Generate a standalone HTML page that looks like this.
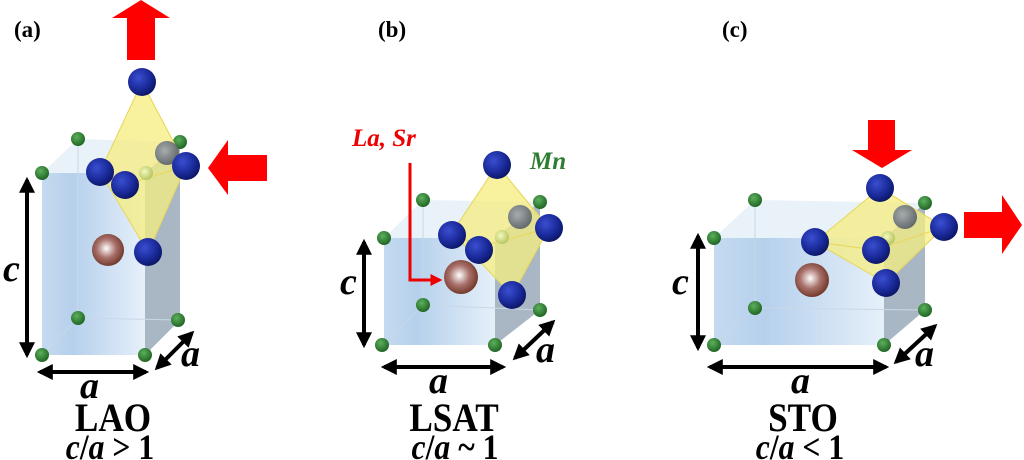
<!DOCTYPE html>
<html><head><meta charset="utf-8"><style>
html,body{margin:0;padding:0;background:#fff}
#w{position:relative;width:1024px;height:460px;overflow:hidden}
svg{display:block;position:absolute;left:0;top:0}
.t{position:absolute;font-family:"Liberation Serif","Times New Roman",serif;font-weight:bold;line-height:1;white-space:nowrap}
.i{font-style:italic}
.c{width:200px;text-align:center;transform:scaleX(0.88)}
</style></head>
<body><div id="w">
<svg width="1024" height="460" viewBox="0 0 1024 460" xmlns="http://www.w3.org/2000/svg">
<defs>
<radialGradient id="gB" cx="0.38" cy="0.35" r="0.7"><stop offset="0" stop-color="#3a4ed0"/><stop offset="0.6" stop-color="#1a2a9a"/><stop offset="1" stop-color="#0a1460"/></radialGradient>
<radialGradient id="gG" cx="0.4" cy="0.35" r="0.7"><stop offset="0" stop-color="#5cb05c"/><stop offset="1" stop-color="#1c6020"/></radialGradient>
<radialGradient id="gR" cx="0.45" cy="0.45" r="0.6"><stop offset="0" stop-color="#ffffff"/><stop offset="0.5" stop-color="#a8706a"/><stop offset="1" stop-color="#6a3020"/></radialGradient>
<radialGradient id="gK" cx="0.4" cy="0.4" r="0.6"><stop offset="0" stop-color="#9aa0b0"/><stop offset="1" stop-color="#505868"/></radialGradient>
<radialGradient id="gY" cx="0.4" cy="0.4" r="0.6"><stop offset="0" stop-color="#f4f8c0"/><stop offset="1" stop-color="#b8c860"/></radialGradient>
<linearGradient id="front" x1="0" x2="1"><stop offset="0" stop-color="#c4daf0"/><stop offset="0.3" stop-color="#b6d0ec"/><stop offset="1" stop-color="#e6f0fa"/></linearGradient>
<marker id="ah" viewBox="0 0 10 10" refX="8" refY="5" markerWidth="4" markerHeight="4" orient="auto-start-reverse"><path d="M0,0 L10,5 L0,10 z" fill="#000"/></marker>
<marker id="rh" viewBox="0 0 10 10" refX="8" refY="5" markerWidth="4" markerHeight="4" orient="auto"><path d="M0,0 L10,5 L0,10 z" fill="#e00"/></marker>
</defs>

<!-- Panel A -->
<polygon points="42,173 78,139 180,142 145,173" fill="#e4eef8" opacity="0.8"/>
<polygon points="145,173 180,142 180,320 145,355" fill="#a9b6c4"/>
<rect x="42" y="173" width="103" height="182" fill="url(#front)"/>
<g stroke="#c8d8e8" stroke-width="1" fill="none"><line x1="78" y1="139" x2="78" y2="318"/><line x1="78" y1="318" x2="178" y2="320"/><line x1="78" y1="318" x2="42" y2="355"/></g>
<circle cx="78" cy="139" r="7" fill="url(#gG)"/><circle cx="180" cy="142" r="7" fill="url(#gG)"/>
<circle cx="42" cy="173" r="7" fill="url(#gG)"/><circle cx="78" cy="318" r="7" fill="url(#gG)"/>
<circle cx="178" cy="320" r="7" fill="url(#gG)"/><circle cx="42" cy="355" r="7" fill="url(#gG)"/><circle cx="145" cy="355" r="7" fill="url(#gG)"/>
<g fill="#f6ee80" fill-opacity="0.5" stroke="#e8d860" stroke-width="1">
<polygon points="142,82 100,172 148,252 186,166"/>
<polygon points="142,82 100,172 125,185 186,166"/>
<polygon points="148,252 100,172 125,185 186,166"/>
</g>
<circle cx="146" cy="173" r="7" fill="url(#gY)"/>
<circle cx="167" cy="153" r="12" fill="url(#gK)" opacity="0.85"/>
<circle cx="108" cy="250" r="16" fill="url(#gR)"/>
<circle cx="142" cy="82" r="14" fill="url(#gB)"/><circle cx="100" cy="172" r="14" fill="url(#gB)"/>
<circle cx="125" cy="185" r="14" fill="url(#gB)"/><circle cx="186" cy="166" r="14" fill="url(#gB)"/>
<circle cx="148" cy="252" r="14" fill="url(#gB)"/>
<polygon points="127,60 155,60 155,18 170,18 141,0 112,18 127,18" fill="#f00"/>
<polygon points="267,155 228,155 228,140 208,168 228,195 228,181 267,181" fill="#f00"/>
<g stroke="#000" stroke-width="4" marker-start="url(#ah)" marker-end="url(#ah)">
<line x1="27" y1="180" x2="27" y2="355"/><line x1="40" y1="372" x2="146" y2="372"/><line x1="157" y1="368" x2="192" y2="333"/></g>

<!-- Panel B -->
<polygon points="384,238 423,200 540,202 495,238" fill="#e4eef8" opacity="0.8"/>
<polygon points="495,238 540,202 540,310 495,345" fill="#a9b6c4"/>
<rect x="384" y="238" width="111" height="107" fill="url(#front)"/>
<g stroke="#c8d8e8" stroke-width="1" fill="none"><line x1="423" y1="200" x2="423" y2="305"/><line x1="423" y1="305" x2="540" y2="310"/><line x1="423" y1="305" x2="384" y2="345"/></g>
<circle cx="423" cy="200" r="7" fill="url(#gG)"/><circle cx="540" cy="202" r="7" fill="url(#gG)"/>
<circle cx="384" cy="238" r="7" fill="url(#gG)"/><circle cx="423" cy="305" r="7" fill="url(#gG)"/>
<circle cx="540" cy="310" r="7" fill="url(#gG)"/><circle cx="382" cy="345" r="7" fill="url(#gG)"/><circle cx="495" cy="345" r="7" fill="url(#gG)"/>
<g fill="#f6ee80" fill-opacity="0.5" stroke="#e8d860" stroke-width="1">
<polygon points="497,165 452,233 512,295 549,228"/>
<polygon points="497,165 452,233 480,247 549,228"/>
<polygon points="512,295 452,233 480,247 549,228"/>
</g>
<circle cx="502" cy="237" r="7" fill="url(#gY)"/>
<circle cx="520" cy="217" r="12" fill="url(#gK)" opacity="0.85"/>
<circle cx="461" cy="277" r="17" fill="url(#gR)"/>
<circle cx="497" cy="165" r="14" fill="url(#gB)"/><circle cx="452" cy="235" r="14" fill="url(#gB)"/>
<circle cx="479" cy="250" r="14" fill="url(#gB)"/><circle cx="549" cy="228" r="14" fill="url(#gB)"/>
<circle cx="512" cy="295" r="14" fill="url(#gB)"/>
<polyline points="410,163 410,280 440,280" fill="none" stroke="#e00" stroke-width="3" marker-end="url(#rh)"/>
<g stroke="#000" stroke-width="4" marker-start="url(#ah)" marker-end="url(#ah)">
<line x1="364" y1="242" x2="364" y2="345"/><line x1="384" y1="367" x2="503" y2="367"/><line x1="515" y1="358" x2="553" y2="322"/></g>

<!-- Panel C -->
<polygon points="714,238 755,200 925,203 884,238" fill="#e4eef8" opacity="0.8"/>
<polygon points="884,238 925,203 925,310 884,345" fill="#a9b6c4"/>
<rect x="714" y="238" width="170" height="107" fill="url(#front)"/>
<g stroke="#c8d8e8" stroke-width="1" fill="none"><line x1="755" y1="200" x2="755" y2="308"/><line x1="755" y1="308" x2="925" y2="310"/><line x1="755" y1="308" x2="714" y2="345"/></g>
<circle cx="755" cy="200" r="7" fill="url(#gG)"/><circle cx="925" cy="203" r="7" fill="url(#gG)"/>
<circle cx="714" cy="238" r="7" fill="url(#gG)"/><circle cx="755" cy="308" r="7" fill="url(#gG)"/>
<circle cx="925" cy="310" r="7" fill="url(#gG)"/><circle cx="714" cy="345" r="7" fill="url(#gG)"/><circle cx="884" cy="345" r="7" fill="url(#gG)"/>
<g fill="#f6ee80" fill-opacity="0.5" stroke="#e8d860" stroke-width="1">
<polygon points="880,188 815,242 886,283 944,227"/>
<polygon points="880,188 815,242 876,250 944,227"/>
<polygon points="886,283 815,242 876,250 944,227"/>
</g>
<circle cx="888" cy="238" r="7" fill="url(#gY)"/>
<circle cx="905" cy="217" r="12" fill="url(#gK)" opacity="0.85"/>
<circle cx="812" cy="280" r="17" fill="url(#gR)"/>
<circle cx="880" cy="188" r="14" fill="url(#gB)"/><circle cx="815" cy="242" r="14" fill="url(#gB)"/>
<circle cx="876" cy="250" r="14" fill="url(#gB)"/><circle cx="944" cy="227" r="14" fill="url(#gB)"/>
<circle cx="886" cy="283" r="14" fill="url(#gB)"/>
<polygon points="868,120 895,120 895,150 912,150 882,168 852,150 868,150" fill="#f00"/>
<polygon points="964,212 1002,212 1002,195 1022,225 1002,254 1002,238 964,238" fill="#f00"/>
<g stroke="#000" stroke-width="4" marker-start="url(#ah)" marker-end="url(#ah)">
<line x1="698" y1="236" x2="698" y2="348"/><line x1="710" y1="367" x2="886" y2="367"/><line x1="896" y1="362" x2="935" y2="326"/></g>
</svg>

<div class="t" style="left:14px;top:18px;font-size:23px">(a)</div>
<div class="t" style="left:378px;top:18px;font-size:23px">(b)</div>
<div class="t" style="left:722px;top:18px;font-size:23px">(c)</div>

<div class="t i" style="left:3px;top:250px;font-size:38px">c</div>
<div class="t i" style="left:80px;top:367px;font-size:38px">a</div>
<div class="t i" style="left:181px;top:335px;font-size:38px">a</div>
<div class="t c" style="left:13px;top:398px;font-size:40px">LAO</div>
<div class="t c" style="left:10px;top:429px;font-size:36px"><span class="i">c</span>/<span class="i">a</span> &gt; 1</div>

<div class="t i" style="left:352px;top:126px;font-size:25px;color:#e00">La, Sr</div>
<div class="t i" style="left:530px;top:149px;font-size:25px;color:#2e7d32">Mn</div>
<div class="t i" style="left:340px;top:263px;font-size:38px">c</div>
<div class="t i" style="left:429px;top:362px;font-size:38px">a</div>
<div class="t i" style="left:536px;top:331px;font-size:38px">a</div>
<div class="t c" style="left:354px;top:398px;font-size:40px">LSAT</div>
<div class="t c" style="left:355px;top:429px;font-size:36px"><span class="i">c</span>/<span class="i">a</span> ~ 1</div>

<div class="t i" style="left:672px;top:263px;font-size:38px">c</div>
<div class="t i" style="left:791px;top:362px;font-size:38px">a</div>
<div class="t i" style="left:915px;top:335px;font-size:38px">a</div>
<div class="t c" style="left:703px;top:398px;font-size:40px">STO</div>
<div class="t c" style="left:700px;top:429px;font-size:36px"><span class="i">c</span>/<span class="i">a</span> &lt; 1</div>
</div></body></html>
